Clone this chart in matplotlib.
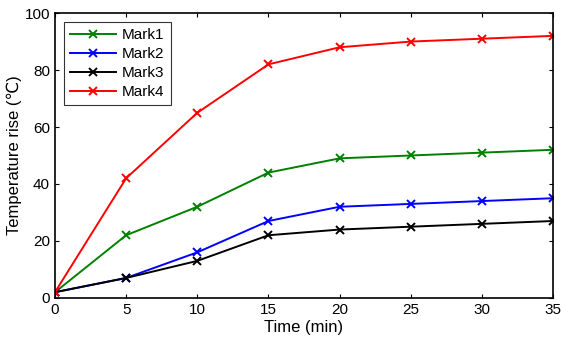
import matplotlib
matplotlib.use("Agg")
import matplotlib.pyplot as plt

plt.rcParams['font.family'] = ['Liberation Sans', 'DejaVu Sans']

time = [0, 5, 10, 15, 20, 25, 30, 35]
mark1 = [2, 22, 32, 44, 49, 50, 51, 52]
mark2 = [2, 7, 16, 27, 32, 33, 34, 35]
mark3 = [2, 7, 13, 22, 24, 25, 26, 27]
mark4 = [2, 42, 65, 82, 88, 90, 91, 92]

fig = plt.figure(figsize=(5.61, 3.44), dpi=100)
ax = fig.add_axes([0.098, 0.134, 0.888, 0.828])

ax.plot(time, mark1, color='green', marker='x', lw=1.4, ms=6, mew=1.4, label='Mark1')
ax.plot(time, mark2, color='blue', marker='x', lw=1.4, ms=6, mew=1.4, label='Mark2')
ax.plot(time, mark3, color='black', marker='x', lw=1.4, ms=6, mew=1.4, label='Mark3')
ax.plot(time, mark4, color='red', marker='x', lw=1.4, ms=6, mew=1.4, label='Mark4')

ax.set_xlim(0, 35)
ax.set_ylim(0, 100)
ax.set_xticks(range(0, 36, 5))
ax.set_yticks(range(0, 101, 20))
ax.tick_params(direction='in', top=True, right=True, labelsize=11, length=3)
for s in ax.spines.values():
    s.set_linewidth(1.2)

ax.set_xlabel('Time (min)', fontsize=12, labelpad=2)
ax.set_ylabel('Temperature rise (\u2103)', fontsize=12, labelpad=2)

leg = ax.legend(loc='upper left', fontsize=11, fancybox=False, edgecolor='black',
                borderaxespad=0.6, handlelength=3.0, labelspacing=0.32,
                handletextpad=0.4, borderpad=0.4)
leg.get_frame().set_linewidth(0.8)

fig.savefig('out.png', dpi=100)
